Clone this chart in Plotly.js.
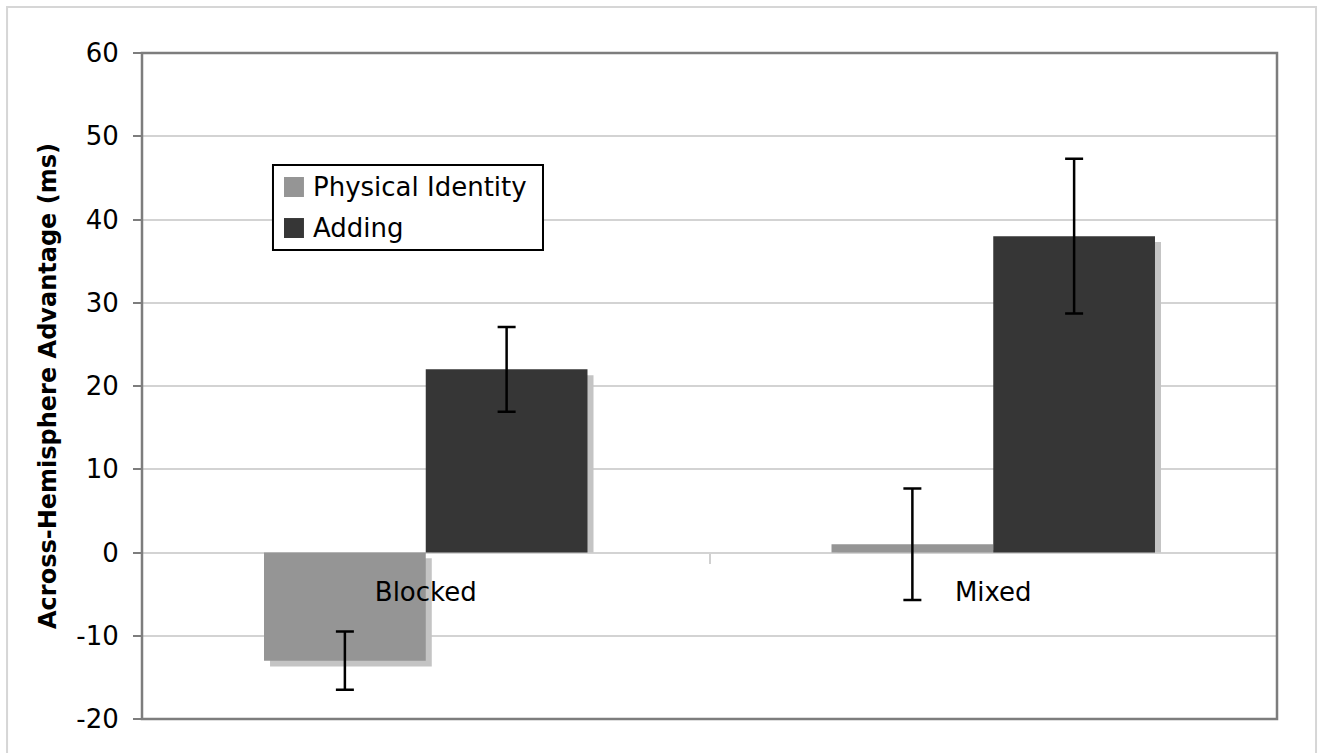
<!DOCTYPE html>
<html>
<head>
<meta charset="utf-8">
<script src="https://cdn.plot.ly/plotly-3.0.1.min.js"></script>
<style>html,body{margin:0;padding:0;background:#fff;}#chart{width:1324px;height:753px;}</style>
</head>
<body>
<div id="chart"></div>
<script>
// ---- data ----
const categories = ["Blocked", "Mixed"];
const seriesNames = ["Physical Identity", "Adding"];
const physicalIdentity = [-13, 1];
const physicalErr = [3.5, 6.7];
const adding = [22, 38];
const addingErr = [5.1, 9.3];
const yTicks = [-20, -10, 0, 10, 20, 30, 40, 50, 60];

// ---- style ----
const FONT = "DejaVu Sans, Verdana, sans-serif";
const colPhys = "#959595";
const colAdd = "#363636";
const colShadow = "#c4c4c4";
const barW = 0.285;
const shadowDx = 0.0106;   // ~6px horizontal shadow offset (category units)
const shadowDy = 0.7;      // ~6px vertical shadow offset (y units)

function shadowBase(vals){ return vals.map(v => v < 0 ? -shadowDy : 0); }
function shadowLen(vals){ return vals.map(v => v < 0 ? v : v - shadowDy); }

const traces = [
  {type:"bar", x:categories, y:shadowLen(physicalIdentity), base:shadowBase(physicalIdentity),
   offset:-barW+shadowDx, width:barW, marker:{color:colShadow, line:{width:0}},
   showlegend:false, hoverinfo:"skip"},
  {type:"bar", x:categories, y:shadowLen(adding), base:shadowBase(adding),
   offset:shadowDx, width:barW, marker:{color:colShadow, line:{width:0}},
   showlegend:false, hoverinfo:"skip"},
  {type:"bar", name:seriesNames[0], x:categories, y:physicalIdentity,
   offset:-barW, width:barW, marker:{color:colPhys, line:{width:0}},
   error_y:{type:"data", array:physicalErr, visible:true, color:"#000", thickness:2.5, width:9},
   showlegend:false},
  {type:"bar", name:seriesNames[1], x:categories, y:adding,
   offset:0, width:barW, marker:{color:colAdd, line:{width:0}},
   error_y:{type:"data", array:addingErr, visible:true, color:"#000", thickness:2.5, width:9},
   showlegend:false}
];

// manual legend geometry (paper coords)
const lgX0 = 0.1154, lgX1 = 0.3533, lgY0 = 0.7042, lgY1 = 0.8318;
const rowY = [0.7988, 0.7372];
const sqX0 = 0.1251, sqX1 = 0.1427, sqH = 0.015;

const shapes = [
  // outer light frame
  {type:"rect", xref:"paper", yref:"paper", x0:-0.1189, x1:1.0344, y0:-0.08, y1:1.069,
   line:{color:"#d6d6d6", width:2}, layer:"below"},
  // plot frame
  {type:"rect", xref:"paper", yref:"paper", x0:0, x1:1, y0:0, y1:1,
   line:{color:"#7d7d7d", width:2.5}, layer:"above"},
  // legend box
  {type:"rect", xref:"paper", yref:"paper", x0:lgX0, x1:lgX1, y0:lgY0, y1:lgY1,
   line:{color:"#000", width:2}, fillcolor:"#fff", layer:"above"}
];
const annotations = [];
const legendColors = [colPhys, colAdd];
seriesNames.forEach((nm, i) => {
  shapes.push({type:"rect", xref:"paper", yref:"paper", x0:sqX0, x1:sqX1,
    y0:rowY[i]-sqH, y1:rowY[i]+sqH, line:{width:0}, fillcolor:legendColors[i], layer:"above"});
  annotations.push({xref:"paper", yref:"paper", x:0.1488, y:rowY[i], xanchor:"left", yanchor:"middle",
    text:nm, showarrow:false, font:{family:FONT, size:26, color:"#000"}});
});

const layout = {
  width:1324, height:753,
  margin:{l:142, r:47, t:53, b:34},
  paper_bgcolor:"#fff", plot_bgcolor:"#fff",
  barmode:"overlay",
  showlegend:false,
  font:{family:FONT, color:"#000"},
  xaxis:{
    type:"category", range:[-0.5, 1.5],
    anchor:"free", position:0.25,
    showgrid:false, zeroline:false, showline:false,
    ticks:"outside", tickson:"boundaries", ticklen:10, tickwidth:2, tickcolor:"#d0d0d0",
    ticklabelstandoff:21,
    tickfont:{family:FONT, size:26, color:"#000"}
  },
  yaxis:{
    range:[-20, 60], tickvals:yTicks, ticktext:yTicks.map(String),
    showgrid:true, gridcolor:"#d3d3d3", gridwidth:2,
    zeroline:false, showline:false,
    ticks:"outside", ticklen:8, tickwidth:2, tickcolor:"#7d7d7d",
    ticklabelstandoff:9,
    tickfont:{family:FONT, size:26, color:"#000"},
    title:{text:"Across-Hemisphere Advantage (ms)", standoff:12,
           font:{family:FONT, size:24, color:"#000", weight:"bold"}}
  },
  shapes:shapes,
  annotations:annotations
};

Plotly.newPlot("chart", traces, layout, {displayModeBar:false, staticPlot:true});
</script>
</body>
</html>
